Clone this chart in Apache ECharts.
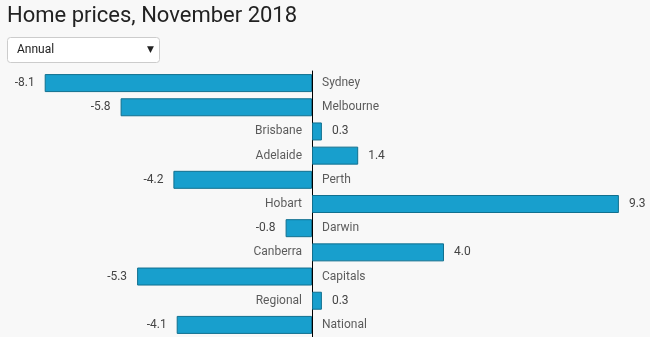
<!DOCTYPE html>
<html><head><meta charset="utf-8">
<script src="https://cdn.jsdelivr.net/npm/echarts@6/dist/echarts.min.js"></script>
<style>html,body{margin:0;padding:0;background:#f8f8f8}#c{width:650px;height:337px}</style>
</head><body><div id="c"></div>
<script>
const categories = ['Sydney','Melbourne','Brisbane','Adelaide','Perth','Hobart','Darwin','Canberra','Capitals','Regional','National'];
const values = [-8.1,-5.8,0.3,1.4,-4.2,9.3,-0.8,4.0,-5.3,0.3,-4.1];
const titleText = 'Home prices, November 2018';
const dropdownText = 'Annual';

const chart = echarts.init(document.getElementById('c'));
const font = 'Roboto, sans-serif';
chart.setOption({
  backgroundColor: '#f8f8f8',
  animation: false,
  title: { text: titleText, left: 2, top: 0, textStyle: { fontFamily: font, fontSize: 22, fontWeight: 'normal', color: '#222' } },
  graphic: [
    { type: 'rect', shape: { x: 7.5, y: 37.5, width: 152, height: 25, r: 3 }, style: { fill: '#fff', stroke: '#ccc', lineWidth: 1 } },
    { type: 'text', x: 17, y: 50, style: { text: dropdownText, fontFamily: font, fontSize: 12, fill: '#222', verticalAlign: 'middle' } },
    { type: 'text', x: 147, y: 50, style: { text: '▼', fontFamily: 'DejaVu Sans', fontSize: 9, fill: '#222', verticalAlign: 'middle' } }
  ],
  grid: { left: 15, right: 8, top: 71, height: 267, containLabel: false },
  xAxis: { type: 'value', min: -9, max: 10, show: false, splitLine: { show: false } },
  yAxis: { type: 'category', data: categories, inverse: true,
    axisLine: { onZero: true, lineStyle: { color: '#000', width: 1 } },
    axisTick: { show: false }, axisLabel: { show: false } },
  series: [
    { type: 'bar', barWidth: 18,
      data: values.map(v => ({ value: v, label: { position: v < 0 ? 'left' : 'right' } })),
      itemStyle: { color: '#189fcd', borderColor: '#11708f', borderWidth: 1 },
      label: { show: true, distance: 10, fontFamily: font, fontSize: 12, color: '#444', formatter: p => p.value.toFixed(1) } },
    { type: 'scatter', symbolSize: 0, silent: true,
      data: values.map((v, i) => ({ value: [0, i], label: { position: v < 0 ? 'right' : 'left' } })),
      label: { show: true, distance: 10, fontFamily: font, fontSize: 12, color: '#333', formatter: p => categories[p.dataIndex] } }
  ]
});
</script></body></html>
